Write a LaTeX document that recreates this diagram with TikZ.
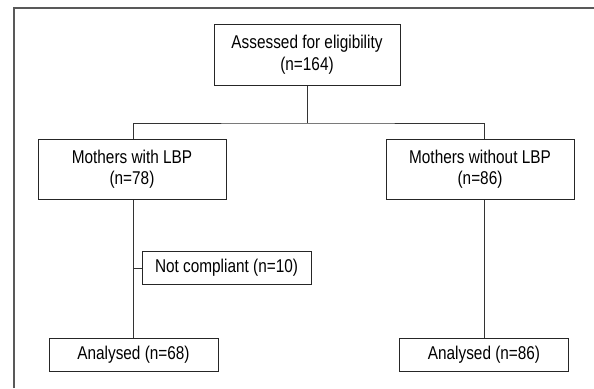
\documentclass[tikz,border=0pt]{standalone}
\usepackage{fontspec}
\setmainfont{Liberation Sans}[FakeStretch=0.83]
\usetikzlibrary{positioning}

\begin{document}
\begin{tikzpicture}[x=1pt, y=-1pt,
  box/.style={draw=black!85, line width=1pt, align=center, inner sep=0pt,
    font=\fontsize{18.5}{21.5}\selectfont},
  bigbox/.style={box, minimum width=188pt, minimum height=61pt},
  smallbox/.style={box, minimum width=169pt, minimum height=33pt},
  link/.style={draw=black!80, line width=0.9pt}]
  \useasboundingbox (0,0) rectangle (594,388);
  % frame
  \draw[black!65, line width=1.4pt] (14,388) -- (14,8) -- (594,8);
  \node[bigbox, minimum width=186pt] (elig) at (307,54.5) {Assessed for eligibility\\(n=164)};
  \node[bigbox, minimum height=60pt] (lbp) at (132,169) {Mothers with LBP\\(n=78)};
  \node[bigbox, minimum height=60pt] (nolbp) at (480,169) {Mothers without LBP\\(n=86)};
  \node[smallbox] (nc) at (226.5,268) {Not compliant (n=10)};
  \node[smallbox] (anl) at (133.5,354.5) {Analysed (n=68)};
  \node[smallbox] (anr) at (484,354.5) {Analysed (n=86)};
  \coordinate (split) at (307,123);
  \draw[link] (elig) -- (split);
  \draw[link] (anl.north |- lbp.north) |- (split) -| (anr.north |- nolbp.north);
  \draw[link] (anl.north |- lbp.south) -- (anl.north);
  \draw[link] (anr.north |- nolbp.south) -- (anr.north);
  \draw[link] (nc.west -| anl.north) -- (nc.west);
\end{tikzpicture}
\end{document}
